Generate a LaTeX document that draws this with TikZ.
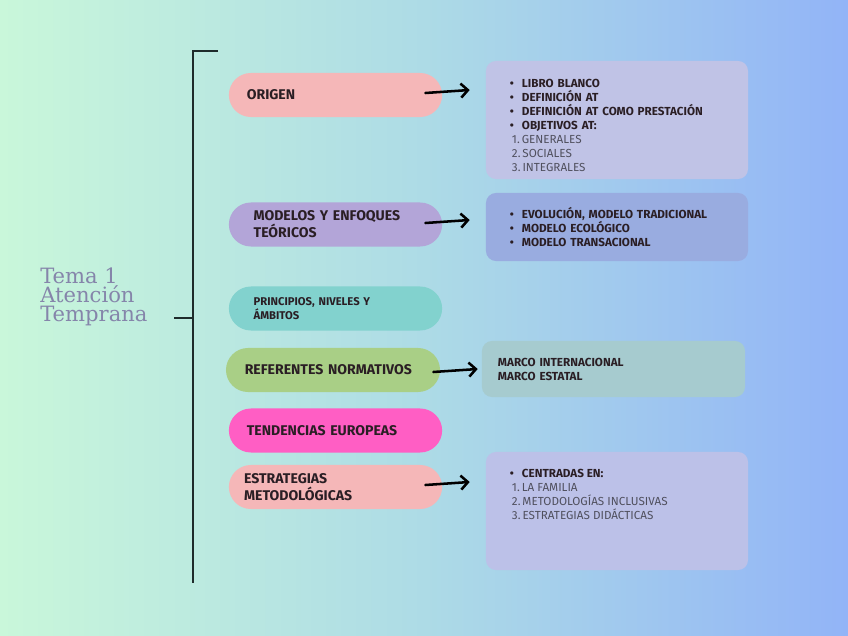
\documentclass[tikz,border=0pt]{standalone}
\usepackage{fontspec}
\setmainfont{Fira Sans}
\newfontfamily\titlefont{DejaVu Serif}
\usepackage{tikz}
\usetikzlibrary{arrows.meta,positioning,calc}
\definecolor{bgleft}{HTML}{C9F7DA}
\definecolor{bgmid}{HTML}{ADDBE6}
\definecolor{bgright}{HTML}{92B4F7}
\definecolor{pinkpill}{HTML}{F5B7B8}
\definecolor{lilac}{HTML}{B3A5D8}
\definecolor{tealpill}{HTML}{82D2CE}
\definecolor{greenpill}{HTML}{A9CF86}
\definecolor{magentapill}{HTML}{FF5EC4}
\definecolor{boxa}{HTML}{C0C3E6}
\definecolor{boxb}{HTML}{99ACE0}
\definecolor{boxc}{HTML}{A6CBCF}
\definecolor{boxd}{HTML}{BCC1E8}
\definecolor{darktext}{HTML}{2A1E24}
\definecolor{numgray}{HTML}{50505E}
\definecolor{titlecol}{HTML}{8585AA}
\definecolor{bracket}{HTML}{1E2B2B}
\newlength{\pxu}\setlength{\pxu}{0.025cm}
\newcommand{\bitem}[1]{\makebox[12\pxu][l]{\textbf{\textbullet}}\textbf{#1}}
\newcommand{\nitem}[2]{\hspace*{2\pxu}\textcolor{numgray}{#1.\,#2}}

\begin{document}
\begin{tikzpicture}[x=0.025cm,y=-0.025cm,>=Latex]
\tikzstyle{pill}=[rounded corners=0.55cm,minimum height=1.1cm,text width=4.43cm,inner xsep=0.45cm,align=left,font=\bfseries\fontsize{10}{12}\selectfont,text=darktext]
\tikzstyle{info}=[rounded corners=0.25cm,minimum width=6.55cm,text width=5.35cm,inner xsep=0.6cm,align=left,font=\fontsize{8.3}{10}\selectfont,text=darktext]
\tikzstyle{arr}=[-{Straight Barb[length=5pt,width=10pt]},line width=1.8pt,line cap=round]
\tikzstyle{brace}=[line width=1.4pt,draw=bracket]
% background
\fill[left color=bgleft,right color=bgright,middle color=bgmid] (0,0) rectangle (848,636);
\useasboundingbox (0,0) rectangle (848,636);
% title and bracket
\node[anchor=west,align=left,text=titlecol,inner sep=0,font=\titlefont\fontsize{15}{13.5}\selectfont] (title) at (40,297) {Tema 1\\Atención\\Temprana};
\coordinate (btop) at (218,51);
\coordinate (bcorner) at (193,51);
\coordinate (bbot) at (193,583);
\coordinate (bmid) at (193,318);
\coordinate (btick) at (174,318);
\draw[brace] (btop) -- (bcorner) -- (bbot);
\draw[brace] (btick) -- (bmid);
% topics
\node[pill,fill=pinkpill] (orig) at (335.5,95) {ORIGEN};
\node[pill,fill=lilac,inner xsep=0.62cm,text width=4.09cm] (mod) at (335.5,224.5) {MODELOS Y ENFOQUES\\TEÓRICOS};
\node[pill,fill=tealpill,inner xsep=0.62cm,text width=4.09cm,font=\bfseries\fontsize{8}{10}\selectfont] (princ) at (335.5,308.5) {PRINCIPIOS, NIVELES Y\\ÁMBITOS};
\node[pill,fill=greenpill,inner xsep=0.47cm,text width=4.41cm] (norm) at (333,370) {REFERENTES NORMATIVOS};
\node[pill,fill=magentapill] (tend) at (335.5,430.5) {TENDENCIAS EUROPEAS};
\node[pill,fill=pinkpill,inner xsep=0.38cm,text width=4.57cm] (met) at (335.5,487) {ESTRATEGIAS\\METODOLÓGICAS};
% details
\node[info,fill=boxa,minimum height=2.95cm] (libro) at (617,120) {\rule{0pt}{14pt}\bitem{LIBRO BLANCO}\\\bitem{DEFINICIÓN AT}\\\bitem{DEFINICIÓN AT COMO PRESTACIÓN}\\\bitem{OBJETIVOS AT:}\\\nitem{1}{GENERALES}\\\nitem{2}{SOCIALES}\\\nitem{3}{INTEGRALES}};
\node[info,fill=boxb,minimum height=1.7cm] (teor) at (617,227) {\bitem{EVOLUCIÓN, MODELO TRADICIONAL}\\\bitem{MODELO ECOLÓGICO}\\\bitem{MODELO TRANSACIONAL}};
\node[info,fill=boxc,minimum height=1.4cm,minimum width=6.575cm,inner xsep=0.4cm,text width=5.775cm,font=\bfseries\fontsize{8.3}{10}\selectfont] (marco) at (613.5,369) {MARCO INTERNACIONAL\\MARCO ESTATAL};
\node[info,fill=boxd,minimum height=2.95cm] (estr) at (617,511) {};
\node[anchor=north west,align=left,inner sep=0,text=darktext,font=\fontsize{8.3}{10}\selectfont] (estrtxt) at ($(estr.north west)+(24,17)$) {\bitem{CENTRADAS EN:}\\\nitem{1}{LA FAMILIA}\\\nitem{2}{METODOLOGÍAS INCLUSIVAS}\\\nitem{3}{ESTRATEGIAS DIDÁCTICAS}};
% arrows
\draw[arr] ($(orig.east)+(-17,-2)$) -- ($(libro.west|-orig.east)+(-16,-5)$);
\draw[arr] ($(mod.east)+(-17,-1.5)$) -- ($(teor.west|-mod.east)+(-16,-4.5)$);
\draw[arr] ($(norm.east)+(-7,2)$) -- ($(marco.west|-norm.east)+(-4,-1)$);
\draw[arr] ($(met.east)+(-17,-2)$) -- ($(estr.west|-met.east)+(-16,-5)$);
\end{tikzpicture}
\end{document}
